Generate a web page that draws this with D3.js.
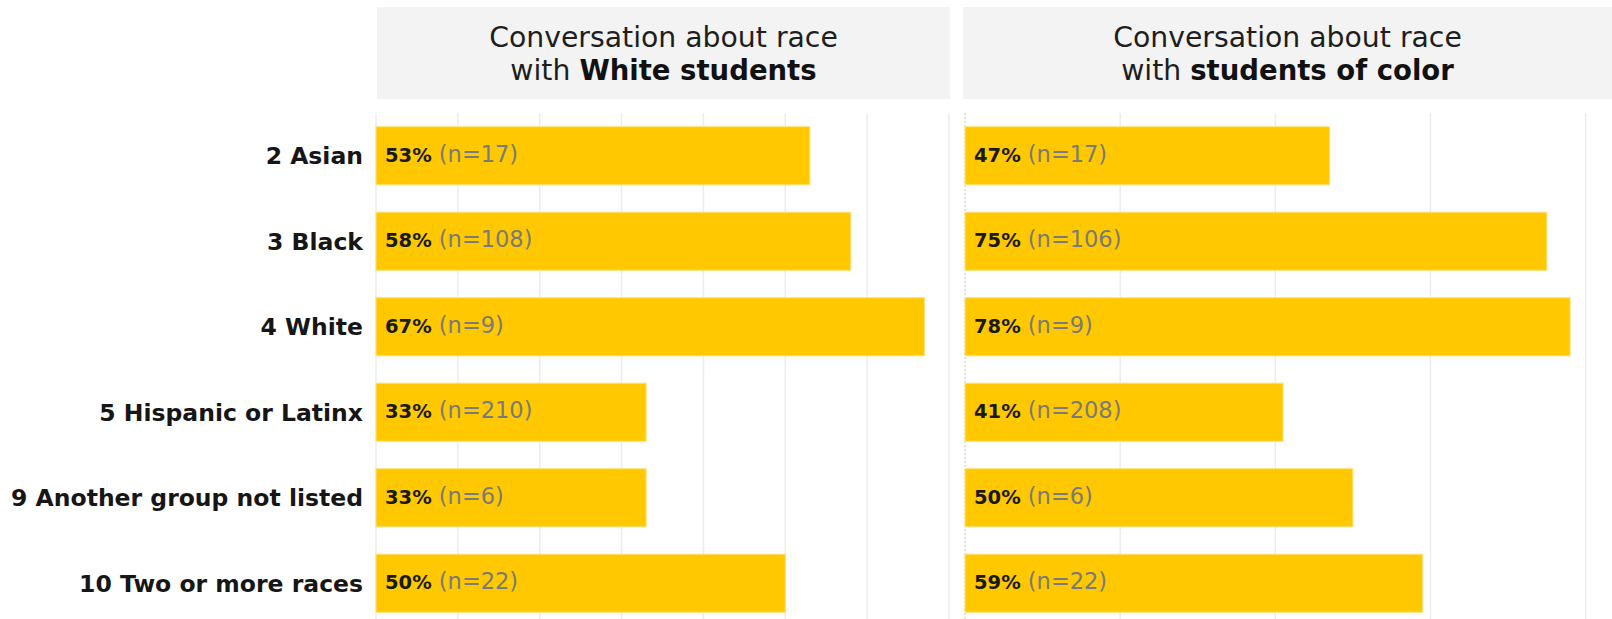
<!DOCTYPE html>
<html>
<head>
<meta charset="utf-8">
<script src="https://cdn.jsdelivr.net/npm/d3@7"></script>
<style>
  html, body { margin: 0; padding: 0; background: #fff; }
  svg { display: block; }
  text { font-family: "DejaVu Sans", Verdana, sans-serif; }
</style>
</head>
<body>
<svg id="chart" width="1612" height="619"></svg>
<script>
// Respondent groups (rows)
const categories = [
  "2 Asian",
  "3 Black",
  "4 White",
  "5 Hispanic or Latinx",
  "9 Another group not listed",
  "10 Two or more races"
];

// Share who had the conversation, per panel (percent)
const whitePct = [53, 58, 67, 33, 33, 50];
const whiteN   = [17, 108, 9, 210, 6, 22];
const colorPct = [47, 75, 78, 41, 50, 59];
const colorN   = [17, 106, 9, 208, 6, 22];

// Panel headers: [first line, second line regular, second line bold]
const panelTitles = [
  ["Conversation about race", "with ", "White students"],
  ["Conversation about race", "with ", "students of color"]
];

const svg = d3.select("#chart");
const W = 1612, H = 619;

const y = d3.scaleBand()
  .domain(categories)
  .range([113, 626])
  .paddingInner(0.32)
  .paddingOuter(0.16);

const panels = [
  { title: panelTitles[0], pct: whitePct, n: whiteN,
    head: [377, 950], x: d3.scaleLinear().domain([0, 70]).range([376, 949]), step: 10, dashedZero: false },
  { title: panelTitles[1], pct: colorPct, n: colorN,
    head: [963, 1612], x: d3.scaleLinear().domain([0, 83.4]).range([965, 1612]), step: 20, dashedZero: true }
];

panels.forEach(p => {
  const g = svg.append("g");

  // header band
  g.append("rect")
    .attr("x", p.head[0]).attr("y", 7)
    .attr("width", p.head[1] - p.head[0]).attr("height", 92)
    .attr("fill", "#f3f3f3");

  const cx = (p.head[0] + p.head[1]) / 2;
  g.append("text")
    .attr("x", cx).attr("y", 46.5)
    .attr("text-anchor", "middle")
    .attr("font-size", 28.3).attr("fill", "#1e1e1e")
    .text(p.title[0]);
  const l2 = g.append("text")
    .attr("x", cx).attr("y", 79.5)
    .attr("text-anchor", "middle")
    .attr("fill", "#1e1e1e");
  l2.append("tspan").attr("font-size", 28.3).text(p.title[1]);
  l2.append("tspan").attr("font-size", 27.5).attr("font-weight", "bold").attr("fill", "#111").text(p.title[2]);

  // vertical gridlines
  const d1 = p.x.domain()[1];
  const ticks = d3.range(p.step, d1 + 0.001, p.step);
  g.selectAll(".grid").data(ticks).join("line")
    .attr("x1", d => p.x(d)).attr("x2", d => p.x(d))
    .attr("y1", 113).attr("y2", H)
    .attr("stroke", "#ececec").attr("stroke-width", 1.5);

  // zero line
  g.append("line")
    .attr("x1", p.x(0)).attr("x2", p.x(0))
    .attr("y1", 113).attr("y2", H)
    .attr("stroke", p.dashedZero ? "#c4c4c4" : "#ececec")
    .attr("stroke-width", p.dashedZero ? 1 : 1.5)
    .attr("stroke-dasharray", p.dashedZero ? "2,2" : null);

  // bars
  g.selectAll(".bar").data(categories).join("rect")
    .attr("x", p.x(0))
    .attr("y", d => y(d))
    .attr("width", (d, i) => p.x(p.pct[i]) - p.x(0))
    .attr("height", y.bandwidth())
    .attr("fill", "#ffc800")
    .attr("stroke", "#ffe27a").attr("stroke-width", 1);

  // value labels inside bars
  const lbl = g.selectAll(".val").data(categories).join("text")
    .attr("x", p.x(0) + 9)
    .attr("y", d => y(d) + y.bandwidth() / 2)
    .attr("dy", "0.36em");
  lbl.append("tspan").attr("font-weight", "bold").attr("fill", "#1a1a1a")
    .attr("font-size", 19.5)
    .text((d, i) => p.pct[i] + "%");
  lbl.append("tspan").attr("fill", "#7a7a7a")
    .attr("font-size", 22.5)
    .text((d, i) => " (n=" + p.n[i] + ")");
});

// row labels
svg.append("g").selectAll("text").data(categories).join("text")
  .attr("x", 363)
  .attr("y", d => y(d) + y.bandwidth() / 2)
  .attr("dy", "0.36em")
  .attr("text-anchor", "end")
  .attr("font-size", 23.5).attr("font-weight", "bold").attr("fill", "#161616")
  .text(d => d);
</script>
</body>
</html>
